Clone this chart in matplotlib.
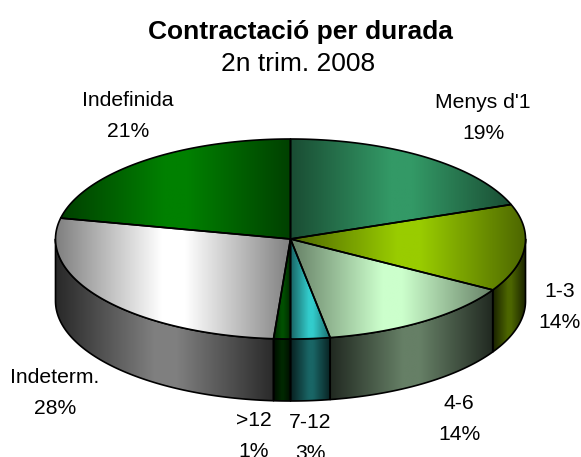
import matplotlib
matplotlib.use('Agg')

import numpy as np
import matplotlib.pyplot as plt
from matplotlib.colors import LinearSegmentedColormap, to_rgb
from matplotlib.path import Path
from matplotlib.patches import PathPatch

plt.rcParams['font.family'] = ['Liberation Sans', 'DejaVu Sans']

# Dades
categories = ["Menys d'1", '1-3', '4-6', '7-12', '>12', 'Indeterm.', 'Indefinida']
values     = [19.4, 14.1, 13.8, 2.7, 1.15, 27.2, 21.65]
pct_labels = ['19%', '14%', '14%', '3%', '1%', '28%', '21%']
colors     = ['#339966', '#99CC00', '#CCFFCC', '#33CCCC', '#005000', '#FFFFFF', '#008000']
label_pos  = [(483, 118), (560, 307), (459, 419), (310, 438), (254, 436), (55, 393), (128, 116)]

CX, CY = 290.5, 239
RX, RY = 235, 100
DEPTH = 62
LW = 1.2


def shade(col, k):
    return tuple(c * k for c in to_rgb(col))


def gradient_fill(ax, verts, col_edge, col_mid, z):
    # gradient horitzontal retallat a la forma del tros
    verts = np.array(verts)
    x0, x1 = verts[:, 0].min(), verts[:, 0].max()
    y0, y1 = verts[:, 1].min(), verts[:, 1].max()
    cmap = LinearSegmentedColormap.from_list(
        'g', [(0, col_edge), (0.45, col_mid), (0.55, col_mid), (1, col_edge)])
    im = ax.imshow(np.linspace(0, 1, 256)[None, :], cmap=cmap, aspect='auto',
                   extent=(x0, x1, y1, y0), zorder=z, interpolation='bilinear')
    patch = PathPatch(Path(np.vstack([verts, verts[0]]), closed=True),
                      fc='none', ec='black', lw=LW, zorder=z + 0.5, joinstyle='round')
    ax.add_patch(patch)
    im.set_clip_path(patch)


def ellipse(theta):
    return CX + RX * np.sin(theta), CY - RY * np.cos(theta)


fig = plt.figure(figsize=(5.81, 4.57), dpi=100)
ax = fig.add_axes([0, 0, 1, 1])

edges = np.radians(np.concatenate([[0], np.cumsum(values)]) * 360 / sum(values))

# Paret lateral (només la part visible)
for i, col in enumerate(colors):
    a, b = max(edges[i], np.pi / 2), min(edges[i + 1], 3 * np.pi / 2)
    if a >= b:
        continue
    t = np.linspace(a, b, 80)
    x, y = ellipse(t)
    verts = list(zip(x, y)) + list(zip(x[::-1], y[::-1] + DEPTH))
    gradient_fill(ax, verts, shade(col, 0.16), shade(col, 0.5), 1)

# Cara superior
for i, col in enumerate(colors):
    t = np.linspace(edges[i], edges[i + 1], 120)
    x, y = ellipse(t)
    verts = [(CX, CY)] + list(zip(x, y))
    gradient_fill(ax, verts, shade(col, 0.5), col, 2)

for cat, pct, (lx, ly) in zip(categories, pct_labels, label_pos):
    ax.text(lx, ly, f'{cat}\n{pct}', ha='center', va='center', fontsize=15.2,
            linespacing=1.8, color='black', zorder=5)

ax.text(300, 32, 'Contractació per durada', ha='center', va='center',
        fontsize=19, fontweight='bold')
ax.text(298, 64, '2n trim. 2008', ha='center', va='center', fontsize=19)

ax.set_xlim(0, 581)
ax.set_ylim(457, 0)
ax.axis('off')

plt.savefig('out.png', dpi=100)
plt.close()
